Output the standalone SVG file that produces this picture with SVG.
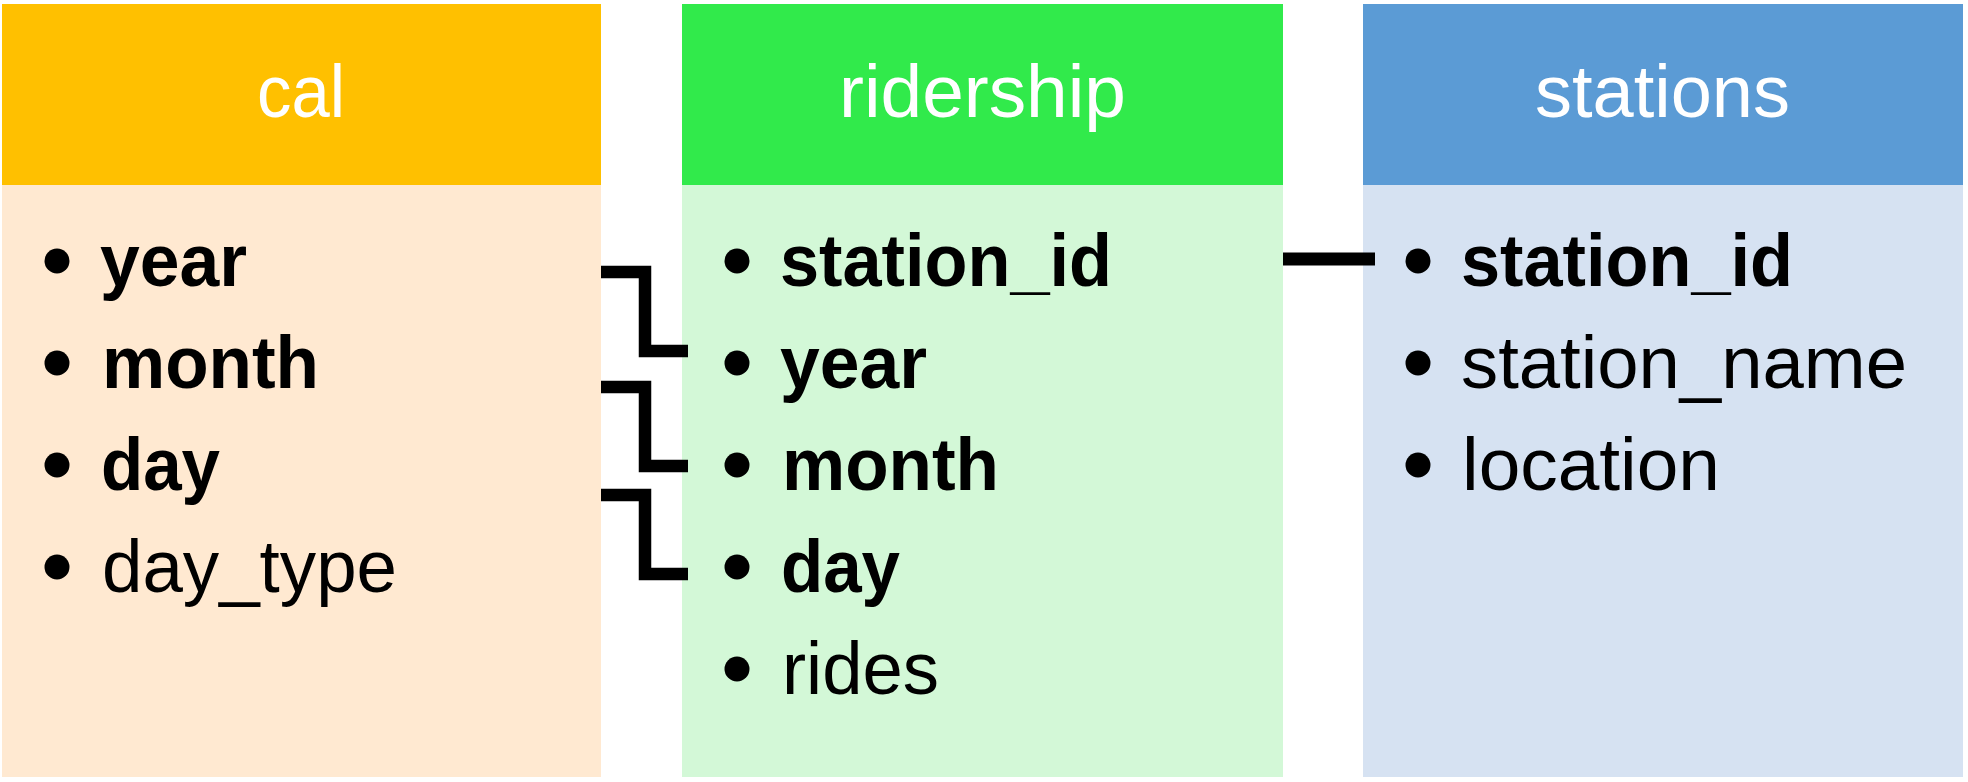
<svg xmlns="http://www.w3.org/2000/svg" width="1968" height="782" viewBox="0 0 1968 782">
<style>
.hd{font-family:"Liberation Sans",Arial,sans-serif;font-size:74px;fill:#ffffff;text-anchor:middle}
.it{font-family:"Liberation Sans",Arial,sans-serif;font-size:74px;fill:#000000}
.b{font-weight:bold}
.dot{fill:#000000}
.con{fill:none;stroke:#000000;stroke-width:12.5;stroke-linecap:butt;stroke-linejoin:miter}
</style>
<rect x="0" y="0" width="1968" height="782" fill="#ffffff"/>
<g id="cal">
<rect x="2" y="4" width="599" height="181" fill="#FFC000"/>
<rect x="2" y="185" width="599" height="592" fill="#FFE9D1"/>
<text class="hd" x="301" y="117" textLength="88" lengthAdjust="spacingAndGlyphs">cal</text>
<circle class="dot" cx="57" cy="261" r="12.5"/>
<text class="it b" x="100" y="286" textLength="147" lengthAdjust="spacingAndGlyphs">year</text>
<circle class="dot" cx="57" cy="363" r="12.5"/>
<text class="it b" x="102" y="388" textLength="217" lengthAdjust="spacingAndGlyphs">month</text>
<circle class="dot" cx="57" cy="465" r="12.5"/>
<text class="it b" x="101" y="490" textLength="119" lengthAdjust="spacingAndGlyphs">day</text>
<circle class="dot" cx="57" cy="567" r="12.5"/>
<text class="it" x="102" y="592" textLength="295" lengthAdjust="spacingAndGlyphs">day_type</text>
</g>
<g id="ridership">
<rect x="682" y="4" width="601" height="181" fill="#31EA4B"/>
<rect x="682" y="185" width="601" height="592" fill="#D3F8D7"/>
<text class="hd" x="982.5" y="117" textLength="287" lengthAdjust="spacingAndGlyphs">ridership</text>
<circle class="dot" cx="737" cy="261" r="12.5"/>
<text class="it b" x="780" y="286" textLength="332" lengthAdjust="spacingAndGlyphs">station_id</text>
<circle class="dot" cx="737" cy="363" r="12.5"/>
<text class="it b" x="780" y="388" textLength="147" lengthAdjust="spacingAndGlyphs">year</text>
<circle class="dot" cx="737" cy="465" r="12.5"/>
<text class="it b" x="782" y="490" textLength="217" lengthAdjust="spacingAndGlyphs">month</text>
<circle class="dot" cx="737" cy="567" r="12.5"/>
<text class="it b" x="781" y="592" textLength="119" lengthAdjust="spacingAndGlyphs">day</text>
<circle class="dot" cx="737" cy="669" r="12.5"/>
<text class="it" x="782" y="694" textLength="157" lengthAdjust="spacingAndGlyphs">rides</text>
</g>
<g id="stations">
<rect x="1363" y="4" width="600" height="181" fill="#5B9BD5"/>
<rect x="1363" y="185" width="600" height="592" fill="#D6E2F2"/>
<text class="hd" x="1662.5" y="117" textLength="255" lengthAdjust="spacingAndGlyphs">stations</text>
<circle class="dot" cx="1418" cy="261" r="12.5"/>
<text class="it b" x="1461" y="286" textLength="332" lengthAdjust="spacingAndGlyphs">station_id</text>
<circle class="dot" cx="1418" cy="363" r="12.5"/>
<text class="it" x="1461" y="388" textLength="446" lengthAdjust="spacingAndGlyphs">station_name</text>
<circle class="dot" cx="1418" cy="465" r="12.5"/>
<text class="it" x="1462" y="490" textLength="258" lengthAdjust="spacingAndGlyphs">location</text>
</g>
<g id="connectors">
<path class="con" d="M601,272 H645 V351 H688"/>
<path class="con" d="M601,387 H645 V466 H688"/>
<path class="con" d="M601,495 H645 V574 H688"/>
<path class="con" d="M1283,259 H1375" style="stroke-width:13"/>
</g>
</svg>
